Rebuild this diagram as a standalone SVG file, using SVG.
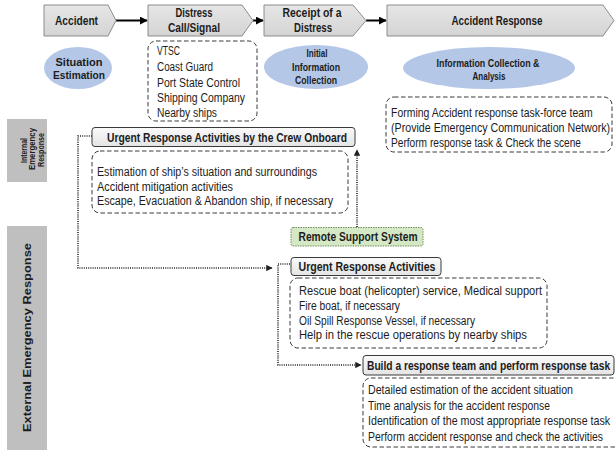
<svg xmlns="http://www.w3.org/2000/svg" width="616" height="450" viewBox="0 0 616 450">
<style>
text{font-family:"Liberation Sans",Arial,sans-serif;fill:#1c1c1c}
.r{font-size:12px}
.b{font-size:12px;font-weight:bold}
.e{font-size:10.5px;font-weight:bold;text-anchor:middle}
.h{font-size:12.5px;font-weight:bold;text-anchor:middle}
.v{font-size:9.5px;font-weight:bold;text-anchor:middle}
.chev{fill:url(#gch);stroke:#8c8c8c;stroke-width:1}
.ell{fill:#b4c7e7}
.dash{fill:#fff;stroke:#3a3a3a;stroke-width:1;stroke-dasharray:4.5 2.5}
.hdr{fill:url(#ghd);stroke:#3a3a3a;stroke-width:1}
.side{fill:#bfbfbf}
.solid{stroke:#000;stroke-width:2;fill:none}
.dot{stroke:#222;stroke-width:1.6;stroke-dasharray:1 1.2;fill:none}
</style>
<defs>
<linearGradient id="gch" x1="0" y1="0" x2="0" y2="1"><stop offset="0" stop-color="#e6e6e6"/><stop offset="1" stop-color="#d4d4d4"/></linearGradient>
<linearGradient id="ghd" x1="0" y1="0" x2="0" y2="1"><stop offset="0" stop-color="#fafafa"/><stop offset="1" stop-color="#e4e4e4"/></linearGradient>
<marker id="ah" viewBox="0 0 10 10" refX="9" refY="5" markerWidth="4" markerHeight="4" orient="auto" markerUnits="strokeWidth"><path d="M0,0 L10,5 L0,10 z" fill="#000"/></marker>
<marker id="ad" viewBox="0 0 10 10" refX="9" refY="5" markerWidth="4" markerHeight="4" orient="auto" markerUnits="strokeWidth"><path d="M0,0 L10,5 L0,10 z" fill="#222"/></marker>
</defs>

<g id="side-internal">
<rect class="side" x="7" y="119" width="40" height="63"/>
<text class="v" transform="translate(26.5,150.5) rotate(-90)" textLength="25" lengthAdjust="spacingAndGlyphs">Internal</text>
<text class="v" transform="translate(35,149) rotate(-90)" textLength="42" lengthAdjust="spacingAndGlyphs">Emergency</text>
<text class="v" transform="translate(43.5,150) rotate(-90)" textLength="34" lengthAdjust="spacingAndGlyphs">Response</text>
</g>
<g id="side-external">
<rect class="side" x="7" y="226" width="40" height="224"/>
<text class="b" style="font-size:11px" text-anchor="middle" transform="translate(31,337.5) rotate(-90)" textLength="189" lengthAdjust="spacingAndGlyphs">External Emergency Response</text>
</g>

<g id="connectors">
<line class="solid" x1="116" y1="20.5" x2="147" y2="20.5" marker-end="url(#ah)"/>
<line class="solid" x1="253" y1="20.5" x2="263" y2="20.5" marker-end="url(#ah)"/>
<line class="solid" x1="366" y1="20.5" x2="386" y2="20.5" marker-end="url(#ah)"/>
<path class="dot" d="M92,136 H78 V268 H272" marker-end="url(#ad)"/>
<path class="dot" d="M290,264 H278 V365 H361" marker-end="url(#ad)"/>
<path class="dot" d="M357,227 V150" marker-end="url(#ad)"/>
</g>

<g id="accident">
<polygon class="chev" points="44,5 108,5 116,20.5 108,36 44,36"/>
<text class="h" x="76.5" y="25" textLength="43" lengthAdjust="spacingAndGlyphs">Accident</text>
</g>
<g id="distress-call">
<polygon class="chev" points="148,5 242,5 253,20.5 242,36 148,36"/>
<text class="h" x="194" y="17" textLength="37" lengthAdjust="spacingAndGlyphs">Distress</text>
<text class="h" x="194" y="31.5" textLength="52" lengthAdjust="spacingAndGlyphs">Call/Signal</text>
</g>
<g id="receipt">
<polygon class="chev" points="264,5 353,5 366,20.5 353,36 264,36"/>
<text class="h" x="312" y="17" textLength="59" lengthAdjust="spacingAndGlyphs">Receipt of a</text>
<text class="h" x="313" y="31.5" textLength="38" lengthAdjust="spacingAndGlyphs">Distress</text>
</g>
<g id="accident-response">
<polygon class="chev" points="387,5 603,5 614,20.5 603,36 387,36"/>
<text class="h" x="497" y="25" textLength="91" lengthAdjust="spacingAndGlyphs">Accident Response</text>
</g>

<g id="situation-estimation">
<ellipse class="ell" cx="78" cy="68" rx="34" ry="21"/>
<text class="e" x="79" y="66" textLength="47" lengthAdjust="spacingAndGlyphs">Situation</text>
<text class="e" x="79" y="79" textLength="52" lengthAdjust="spacingAndGlyphs">Estimation</text>
</g>
<g id="initial-info">
<ellipse class="ell" cx="316" cy="67" rx="52" ry="22"/>
<text class="e" x="317" y="57" textLength="21" lengthAdjust="spacingAndGlyphs">Initial</text>
<text class="e" x="316" y="71" textLength="48" lengthAdjust="spacingAndGlyphs">Information</text>
<text class="e" x="316" y="84" textLength="42" lengthAdjust="spacingAndGlyphs">Collection</text>
</g>
<g id="info-analysis">
<ellipse class="ell" cx="489" cy="68" rx="86" ry="21"/>
<text class="e" x="488" y="66.5" textLength="103" lengthAdjust="spacingAndGlyphs">Information Collection &amp;</text>
<text class="e" x="489" y="80" textLength="33" lengthAdjust="spacingAndGlyphs">Analysis</text>
</g>

<g id="contacts">
<rect class="dash" x="148" y="41" width="109" height="80" rx="8"/>
<text class="r" x="157" y="55" textLength="23" lengthAdjust="spacingAndGlyphs">VTSC</text>
<text class="r" x="157" y="71" textLength="56" lengthAdjust="spacingAndGlyphs">Coast Guard</text>
<text class="r" x="157" y="87" textLength="83" lengthAdjust="spacingAndGlyphs">Port State Control</text>
<text class="r" x="157" y="102" textLength="88" lengthAdjust="spacingAndGlyphs">Shipping Company</text>
<text class="r" x="157" y="117" textLength="60" lengthAdjust="spacingAndGlyphs">Nearby ships</text>
</g>

<g id="task-force">
<rect class="dash" x="386" y="97" width="226" height="55" rx="8"/>
<text class="r" transform="translate(391,117) scale(0.87,1)" textLength="232" lengthAdjust="spacingAndGlyphs">Forming Accident response task-force team</text>
<text class="r" transform="translate(391,132) scale(0.88,1)" textLength="249" lengthAdjust="spacingAndGlyphs">(Provide Emergency Communication Network)</text>
<text class="r" x="391" y="147" textLength="190" lengthAdjust="spacingAndGlyphs">Perform response task &amp; Check the scene</text>
</g>

<g id="crew-onboard">
<rect class="hdr" x="92" y="127.5" width="263" height="19" rx="3"/>
<text class="b" x="227" y="141.5" text-anchor="middle" textLength="240" lengthAdjust="spacingAndGlyphs">Urgent Response Activities by the Crew Onboard</text>
<rect class="dash" x="92" y="151" width="256" height="62" rx="8"/>
<text class="r" x="97" y="176" textLength="220" lengthAdjust="spacingAndGlyphs">Estimation of ship’s situation and surroundings</text>
<text class="r" x="97" y="191" textLength="136" lengthAdjust="spacingAndGlyphs">Accident mitigation activities</text>
<text class="r" x="97" y="205" textLength="236" lengthAdjust="spacingAndGlyphs">Escape, Evacuation &amp; Abandon ship, if necessary</text>
</g>

<g id="remote-support">
<rect x="291" y="227.5" width="132" height="18.5" rx="2" fill="#d5e8c6" stroke="#6f8f55" stroke-width="1" stroke-dasharray="1.5 1"/>
<text class="b" x="358" y="241" text-anchor="middle" textLength="119" lengthAdjust="spacingAndGlyphs">Remote Support System</text>
</g>

<g id="urgent-external">
<rect class="hdr" x="291" y="257.5" width="150" height="18" rx="3"/>
<text class="b" x="367" y="271" text-anchor="middle" textLength="137" lengthAdjust="spacingAndGlyphs">Urgent Response Activities</text>
<rect class="dash" x="290" y="278" width="257" height="70" rx="8"/>
<text class="r" x="299" y="295" textLength="243" lengthAdjust="spacingAndGlyphs">Rescue boat (helicopter) service, Medical support</text>
<text class="r" x="299" y="310" textLength="101" lengthAdjust="spacingAndGlyphs">Fire boat, if necessary</text>
<text class="r" x="299" y="325" textLength="176" lengthAdjust="spacingAndGlyphs">Oil Spill Response Vessel, if necessary</text>
<text class="r" x="299" y="339" textLength="228" lengthAdjust="spacingAndGlyphs">Help in the rescue operations by nearby ships</text>
</g>

<g id="build-team">
<rect class="hdr" x="363" y="355.5" width="251" height="19.5" rx="3"/>
<text class="b" transform="translate(367,369.5) scale(0.85,1)" textLength="286" lengthAdjust="spacingAndGlyphs">Build a response team and perform response task</text>
<rect class="dash" x="363" y="378" width="260" height="69" rx="8"/>
<text class="r" x="368" y="394" textLength="205" lengthAdjust="spacingAndGlyphs">Detailed estimation of the accident situation</text>
<text class="r" x="368" y="410" textLength="182" lengthAdjust="spacingAndGlyphs">Time analysis for the accident response</text>
<text class="r" transform="translate(368,425) scale(0.884,1)" textLength="274" lengthAdjust="spacingAndGlyphs">Identification of the most appropriate response task</text>
<text class="r" transform="translate(368,441) scale(0.867,1)" textLength="271" lengthAdjust="spacingAndGlyphs">Perform accident response and check the activities</text>
</g>
</svg>
